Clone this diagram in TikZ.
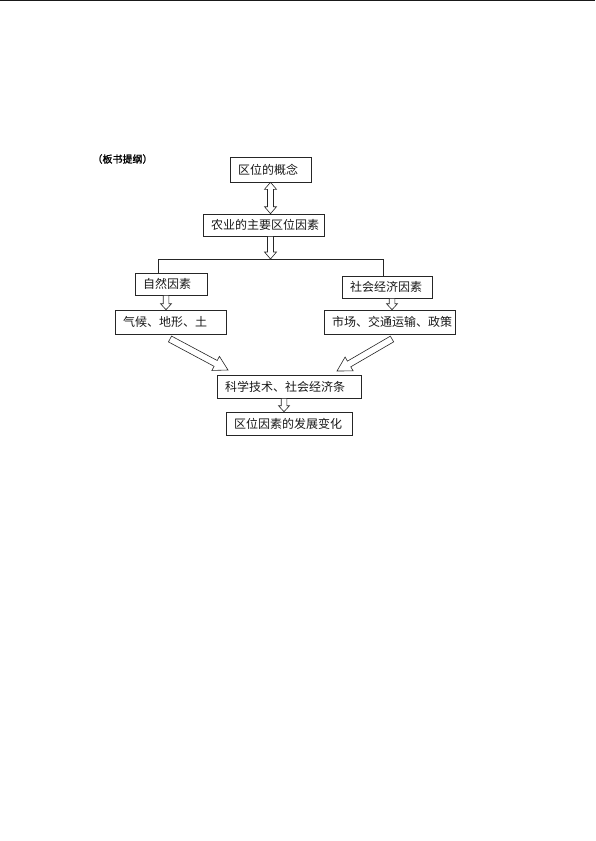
\documentclass[tikz,border=0pt]{standalone}
\usepackage{fontspec}
\newfontfamily\cjk{Noto Sans CJK SC}
\newfontfamily\cjkb[FakeBold=1.2]{Noto Sans CJK SC}
\usetikzlibrary{calc}
\tikzset{
  box/.style={draw=black!85, line width=0.6pt, inner xsep=0pt, inner ysep=0pt,
    text width=#1, align=left, execute at begin node=\hspace*{8pt},
    text=black!90, font=\cjk\fontsize{12}{14}\selectfont},
  hollow/.style={draw=black!85, line width=0.6pt, fill=white, line join=miter},
  link/.style={draw=black!85, line width=0.6pt},
}
% #1 start, #2 end, #3 shaft half width, #4 head half width, #5 head length
\newcommand\hollowarrow[5]{%
  \coordinate (ha) at ($(#2)!#5!(#1)$);
  \path[hollow] ($(#1)!#3!90:(#2)$) -- ($(ha)!#3!90:(#2)$) -- ($(ha)!#4!90:(#2)$) -- (#2)
    -- ($(ha)!#4!-90:(#2)$) -- ($(ha)!#3!-90:(#2)$) -- ($(#1)!#3!-90:(#2)$) -- cycle;
}
\newcommand\dblhollow[5]{%
  \coordinate (ha) at ($(#2)!#5!(#1)$);
  \coordinate (hb) at ($(#1)!#5!(#2)$);
  \path[hollow] (#1) -- ($(hb)!#4!90:(#2)$) -- ($(hb)!#3!90:(#2)$) -- ($(ha)!#3!90:(#2)$)
    -- ($(ha)!#4!90:(#2)$) -- (#2) -- ($(ha)!#4!-90:(#2)$) -- ($(ha)!#3!-90:(#2)$)
    -- ($(hb)!#3!-90:(#2)$) -- ($(hb)!#4!-90:(#2)$) -- cycle;
}
\begin{document}
\begin{tikzpicture}[x=1pt,y=-1pt]
\useasboundingbox[fill=white] (0,0) rectangle (595,841);
\draw[line width=1pt, black!90] (0,0.6) -- (595,0.6);

\node[font=\cjkb\fontsize{10}{12}\selectfont, inner sep=0pt] (title) at (122.5,159) {（板书提纲）};

\node[box=81pt, minimum height=25pt] (b1) at (270.5,169.5) {区位的概念};
\node[box=121pt, minimum height=22pt] (b2) at (263.5,225) {农业的主要区位因素};
\node[box=72pt, minimum height=22pt] (b3) at (171,284) {自然因素};
\node[box=90pt, minimum height=22pt] (b4) at (387,287) {社会经济因素};
\node[box=111pt, minimum height=24pt] (b5) at (170.5,322) {气候、地形、土};
\node[box=131pt, minimum height=24pt] (b6) at (389.5,322) {市场、交通运输、政策};
\node[box=144pt, minimum height=23pt] (b7) at (289,386.5) {科学技术、社会经济条};
\node[box=126pt, minimum height=23pt] (b8) at (289,423.5) {区位因素的发展变化};

% branch line
\coordinate (L) at (158,259);
\coordinate (R) at (383,259);
\draw[link] (b3.north -| L) -- (L) -- (R) -- (b4.north -| R);

% vertical hollow arrows
\coordinate (a1) at (b1.south);
\coordinate (a2) at (b1.south |- b2.north);
\dblhollow{a1}{a2}{3pt}{6pt}{7pt}
\coordinate (a3) at (b1.south |- b2.south);
\coordinate (a4) at (b1.south |- L);
\hollowarrow{a3}{a4}{3pt}{6pt}{7pt}
\coordinate (a5) at (b3.south -| 166,0);
\coordinate (a6) at (b5.north -| 166,0);
\hollowarrow{a5}{a6}{2.8pt}{5.5pt}{6pt}
\coordinate (a7) at (b4.south -| 392,0);
\coordinate (a8) at (b6.north -| 392,0);
\hollowarrow{a7}{a8}{2.8pt}{5.5pt}{6pt}
\coordinate (a9) at (b7.south -| 284,0);
\coordinate (a10) at (b8.north -| 284,0);
\hollowarrow{a9}{a10}{2.8pt}{5.5pt}{6pt}

% diagonal hollow arrows
\coordinate (d1) at (170,339);
\coordinate (d2) at (228,370);
\hollowarrow{d1}{d2}{3.3pt}{8pt}{14pt}
\coordinate (d3) at (392,339);
\coordinate (d4) at (337,371);
\hollowarrow{d3}{d4}{3.3pt}{8pt}{14pt}
\end{tikzpicture}
\end{document}
